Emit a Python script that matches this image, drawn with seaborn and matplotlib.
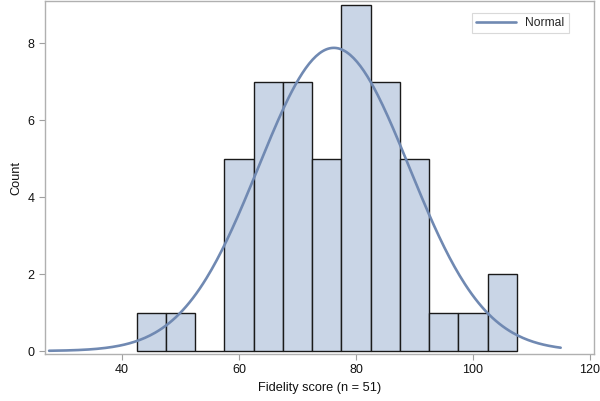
import numpy as np
import pandas as pd
import seaborn as sns

import matplotlib.pyplot as plt

# histogram bins (width 5) and counts
bin_mids = [45, 50, 55, 60, 65, 70, 75, 80, 85, 90, 95, 100, 105]
counts = [1, 1, 0, 5, 7, 7, 5, 9, 7, 5, 1, 1, 2]
bin_width = 5

# fitted normal curve parameters
mu = 76.2
sigma = 12.9
n = 51
curve_lo, curve_hi = 27.5, 115.0

sns.set_theme(style='white')
plt.rcParams['font.family'] = ['Liberation Sans', 'DejaVu Sans']

fig = plt.figure(figsize=(6, 4.01), dpi=100)
ax = fig.add_axes([0.075, 0.117, 0.915, 0.88])

edges = [m - bin_width / 2 for m in bin_mids] + [bin_mids[-1] + bin_width / 2]
df = pd.DataFrame({'score': bin_mids, 'count': counts})
sns.histplot(data=df, x='score', weights='count', bins=edges, ax=ax,
             color='#c9d5e6', edgecolor='#1a1a1a', linewidth=1.0, alpha=1.0)

xs = np.linspace(curve_lo, curve_hi, 300)
ys = n * bin_width * np.exp(-0.5 * ((xs - mu) / sigma) ** 2) / (sigma * np.sqrt(2 * np.pi))
sns.lineplot(x=xs, y=ys, ax=ax, color='#7089b2', linewidth=1.9, label='Normal')

ax.set_xlim(26.8, 120.7)
ax.set_ylim(-0.08, 9.1)
ax.set_xticks([40, 60, 80, 100, 120])
ax.set_yticks([0, 2, 4, 6, 8])
ax.set_xlabel('Fidelity score (n = 51)', fontsize=9.2, color='#111111')
ax.set_ylabel('Count', fontsize=9.2, color='#111111')
ax.tick_params(axis='both', labelsize=9, labelcolor='#111111', length=4, width=0.8,
               bottom=True, left=True, color='#a0a0a0')
for s in ax.spines.values():
    s.set_color('#b0b0b0')
    s.set_linewidth(1.0)

leg = ax.legend(loc='upper right', fontsize=8.7, frameon=True, fancybox=False,
                borderpad=0.35, handlelength=3.3, bbox_to_anchor=(0.965, 0.985))
leg.get_frame().set_edgecolor('#d0d0d0')
leg.get_frame().set_linewidth(0.8)

fig.savefig('out.png', dpi=100)
